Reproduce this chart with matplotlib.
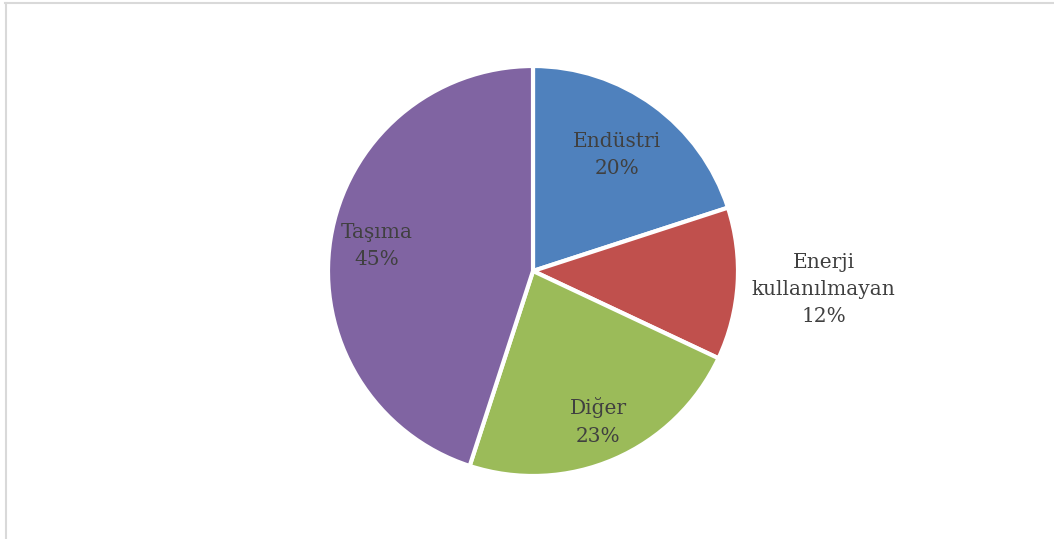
import matplotlib
matplotlib.use("Agg")
import matplotlib.pyplot as plt
import numpy as np

labels = ["Endüstri", "Enerji\nkullanılmayan", "Diğer", "Taşıma"]
shares = [20, 12, 23, 45]
colors = ["#4F81BD", "#C0504D", "#9BBB59", "#8064A2"]
label_r = [0.70, 1.42, 0.80, 0.77]

W, H = 1054, 539
fig = plt.figure(figsize=(W / 100, H / 100), dpi=100)

# pie centre and radius in pixels
cx, cy, r = 533, 271, 205
ax = fig.add_axes([(cx - r) / W, (H - cy - r) / H, 2 * r / W, 2 * r / H])

wedges, _ = ax.pie(shares, colors=colors, startangle=90, counterclock=False,
                   radius=1.0, wedgeprops=dict(edgecolor="white", linewidth=3))
ax.set_xlim(-1, 1)
ax.set_ylim(-1, 1)
ax.set_aspect("equal")
ax.axis("off")

for w, lab, v, d in zip(wedges, labels, shares, label_r):
    ang = np.deg2rad((w.theta1 + w.theta2) / 2)
    ax.text(d * np.cos(ang), d * np.sin(ang), f"{lab}\n{v}%",
            ha="center", va="center", fontsize=14.5, family="DejaVu Serif",
            color="#404040", linespacing=1.55)

# thin frame lines along the top and left edges
fig.add_artist(plt.Line2D([5 / W, 1], [1 - 2.5 / H, 1 - 2.5 / H], color="#d9d9d9", lw=1.5))
fig.add_artist(plt.Line2D([5.5 / W, 5.5 / W], [0, 1 - 2.5 / H], color="#d9d9d9", lw=1.5))

fig.savefig("out.png", dpi=100)
